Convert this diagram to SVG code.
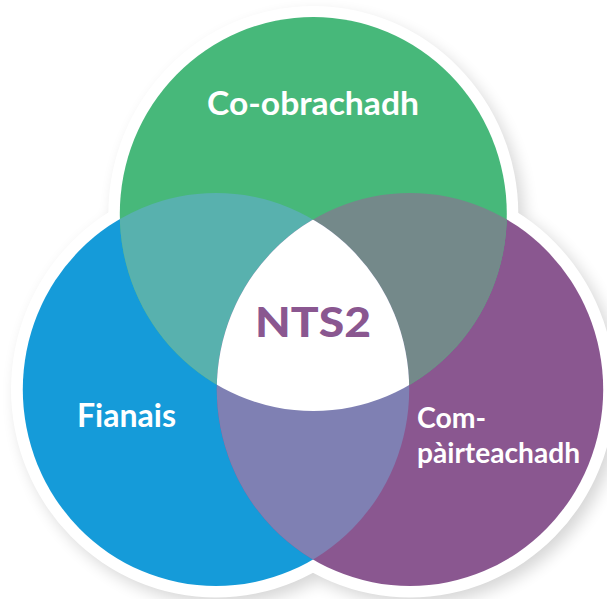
<svg xmlns="http://www.w3.org/2000/svg" width="607" height="599" viewBox="0 0 607 599">
<style>
text{font-family:"Lato","Open Sans",sans-serif;font-weight:700;fill:#fff}
.l{font-size:32.5px}
.s{font-size:28.4px}
</style>
<defs>
<clipPath id="cg"><ellipse cx="313.3" cy="214" rx="193.5" ry="197"/></clipPath>
<clipPath id="cb"><ellipse cx="216" cy="389.5" rx="193.2" ry="196.5"/></clipPath>
<clipPath id="cp"><ellipse cx="410" cy="389.5" rx="193.2" ry="196.5"/></clipPath>
<filter id="sh" x="-10%" y="-10%" width="120%" height="120%"><feGaussianBlur stdDeviation="8"/></filter>
</defs>
<rect width="607" height="599" fill="#fff"/>
<g id="shadow" fill="#000" opacity="0.16" filter="url(#sh)">
<ellipse cx="319" cy="222" rx="205" ry="208"/><ellipse cx="222" cy="396" rx="205" ry="208"/><ellipse cx="416" cy="396" rx="205" ry="208"/>
</g>
<g id="halo" fill="#fff">
<ellipse cx="313.3" cy="214" rx="205" ry="208"/><ellipse cx="216" cy="389.5" rx="205" ry="208"/><ellipse cx="410" cy="389.5" rx="205" ry="208"/>
</g>
<g id="fianais"><ellipse cx="216" cy="389.5" rx="193.2" ry="196.5" fill="#159bd9"/><text class="l" x="77" y="427" textLength="99" lengthAdjust="spacingAndGlyphs">Fianais</text></g>
<g id="com"><ellipse cx="410" cy="389.5" rx="193.2" ry="196.5" fill="#8a5790"/><text class="s" x="417" y="427.5">Com-</text><text class="s" x="417" y="462.5" textLength="163" lengthAdjust="spacingAndGlyphs">pàirteachadh</text></g>
<g id="coobrachadh"><ellipse cx="313.3" cy="214" rx="193.5" ry="197" fill="#47b87a"/><text class="l" x="207" y="115" textLength="212" lengthAdjust="spacingAndGlyphs">Co-obrachadh</text></g>
<g id="overlaps">
<g clip-path="url(#cg)"><ellipse cx="216" cy="389.5" rx="193.2" ry="196.5" fill="#58b1ae"/><ellipse cx="410" cy="389.5" rx="193.2" ry="196.5" fill="#74898a"/></g>
<g clip-path="url(#cb)"><ellipse cx="410" cy="389.5" rx="193.2" ry="196.5" fill="#7f80b3"/></g>
</g>
<g id="nts2"><g clip-path="url(#cg)"><g clip-path="url(#cb)"><ellipse cx="410" cy="389.5" rx="193.2" ry="196.5" fill="#fff"/></g></g><text x="255" y="337" textLength="116" lengthAdjust="spacingAndGlyphs" style="font-size:41px;font-weight:900;fill:#8a5790">NTS2</text></g>
</svg>
